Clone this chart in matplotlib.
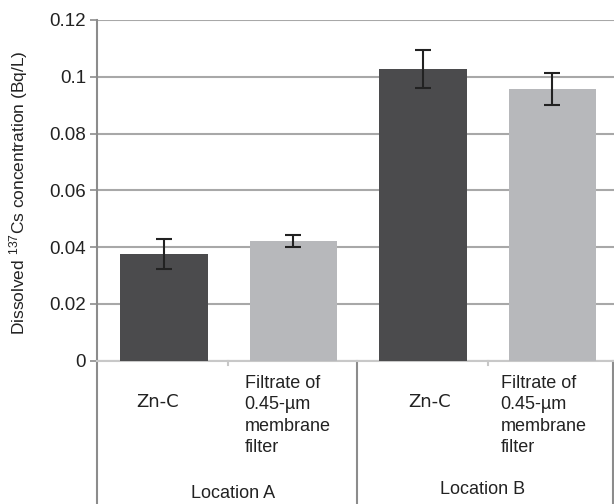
import matplotlib.pyplot as plt
import matplotlib.transforms as mtransforms

categories = ["Zn-C", "Filtrate of\n0.45-\u00b5m\nmembrane\nfilter", "Zn-C", "Filtrate of\n0.45-\u00b5m\nmembrane\nfilter"]
locations = ["Location A", "Location B"]
values = [0.0376, 0.0421, 0.1027, 0.0957]
errors = [0.0053, 0.0020, 0.0066, 0.0055]
bar_colors = ["#4b4b4d", "#b7b8bb", "#4b4b4d", "#b7b8bb"]
yticks = [0, 0.02, 0.04, 0.06, 0.08, 0.1, 0.12]
ytick_labels = ["0", "0.02", "0.04", "0.06", "0.08", "0.1", "0.12"]

plt.rcParams['font.family'] = ['Liberation Sans', 'DejaVu Sans']
plt.rcParams['mathtext.default'] = 'regular'

fig = plt.figure(figsize=(6.14, 5.04), dpi=100)
ax = fig.add_axes([97 / 614, (504 - 360.5) / 504, 1 - 97 / 614, (360.5 - 20) / 504])

x = list(range(len(values)))
ax.bar(x, values, width=0.675, color=bar_colors, zorder=3)
ax.errorbar(x, values, yerr=errors, fmt='none', ecolor='#222222', elinewidth=1.5,
            capsize=6, capthick=1.5, zorder=4)

ax.set_xlim(-0.517, 3.475)
ax.set_ylim(0, 0.12)
ax.set_yticks(yticks)
ax.set_yticklabels(ytick_labels, fontsize=13.5, color='#222222')
ax.tick_params(axis='y', length=5, width=1.2, color='#8c8c8c', pad=3)
ax.set_xticks([])
ax.yaxis.grid(True, color='#a8a8a8', linewidth=1.5, zorder=0)
ax.set_axisbelow(True)

for s in ['top', 'right']:
    ax.spines[s].set_visible(False)
ax.spines['left'].set_color('#8c8c8c')
ax.spines['left'].set_linewidth(1.5)
ax.spines['bottom'].set_color('#c8c8c8')
ax.spines['bottom'].set_linewidth(1.5)

ax.set_ylabel("Dissolved $^{137}$Cs concentration (Bq/L)", fontsize=12.5, color='#222222', va='center')
ax.yaxis.set_label_coords((19 - 97) / 517, (360.5 - 193) / 340.5)

# category area below the axis
trans = mtransforms.blended_transform_factory(ax.transData, ax.transAxes)
def ay(py):
    # pixel y (from top) -> axes fraction
    return (360.5 - py) / (360.5 - 20)

ax.plot([-0.517, -0.517], [0, ay(504)], transform=trans, color='#8c8c8c', lw=1.5, clip_on=False)
ax.plot([1.49, 1.49], [0, ay(504)], transform=trans, color='#8c8c8c', lw=1.5, clip_on=False)
ax.plot([3.47, 3.47], [0, ay(504)], transform=trans, color='#8c8c8c', lw=1.5, clip_on=False)
for xb in [0.494, 2.5]:
    ax.plot([xb, xb], [0, ay(365)], transform=trans, color='#c8c8c8', lw=1.5, clip_on=False)

zn_x = [-0.05, 2.05]
for i, xc in zip([0, 2], zn_x):
    ax.text(xc, ay(402), categories[i], transform=trans, ha='center', va='center',
            fontsize=13, family=['DejaVu Sans'], color='#222222')
for i, xl in zip([1, 3], [0.622, 2.6]):
    ax.text(xl, ay(375), categories[i], transform=trans, ha='left', va='top',
            fontsize=13, color='#222222', linespacing=1.33)

ax.text(0.53, ay(494), locations[0], transform=trans, ha='center', va='center', fontsize=13, color='#222222')
ax.text(2.46, ay(490), locations[1], transform=trans, ha='center', va='center', fontsize=13, color='#222222')

fig.savefig("out.png", dpi=100)
